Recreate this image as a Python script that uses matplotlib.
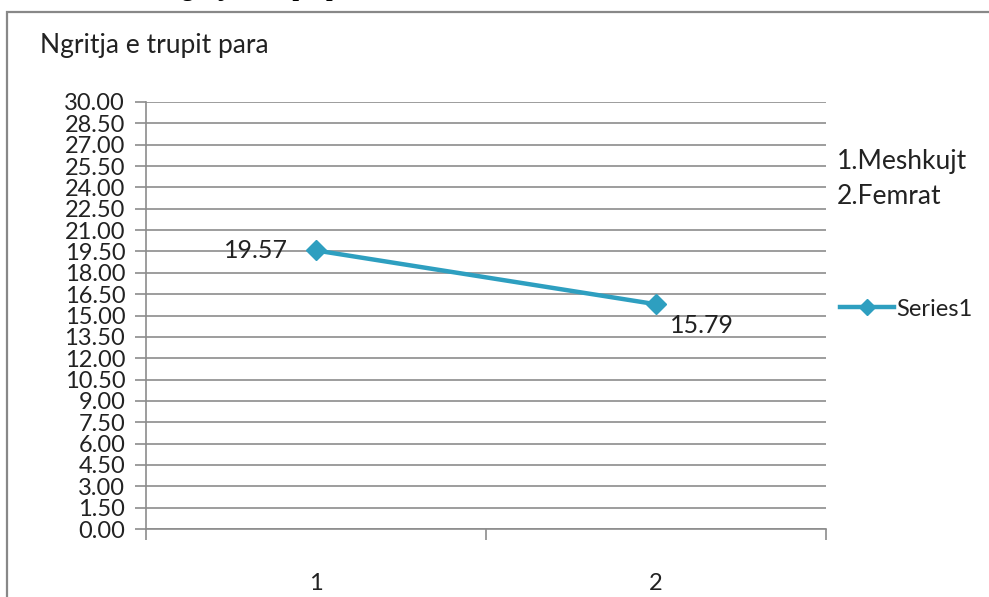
import matplotlib.pyplot as plt
from matplotlib.patches import Rectangle
import numpy as np

categories = ["1", "2"]
values = [19.57, 15.79]
y_ticks = np.arange(0, 30.01, 1.5)
notes = ["1.Meshkujt", "2.Femrat"]
series_name = "Series1"
chart_title = "Ngritja e trupit para"

LINE_COLOR = "#2E9FC0"
GRID = "#8C8C8C"
TEXT = "#222222"
plt.rcParams['font.family'] = ['Lato', 'DejaVu Sans']

fig = plt.figure(figsize=(9.89, 5.97), dpi=100)
ax = fig.add_axes([146 / 989, 1 - 529 / 597, 680 / 989, 427 / 597])

# heading above the chart box, mostly cut off by the page edge
fig.text(165 / 989, 1 + 4 / 597, chart_title, family="Liberation Serif",
         weight="bold", fontsize=17, va="baseline", ha="left")

# outer chart frame
fig.patches.append(Rectangle((7 / 989, -0.1), 1.2, 1 - 12 / 597 + 0.1, transform=fig.transFigure,
                             fill=False, edgecolor="#888888", linewidth=1.6))

x = np.arange(1, len(values) + 1)
ax.plot(x, values, color=LINE_COLOR, linewidth=3.2, marker="D", markersize=10, zorder=3,
        label=series_name)

ax.set_xlim(0.5, len(values) + 0.5)
ax.set_ylim(0, 30)
ax.set_yticks(y_ticks)
ax.set_yticklabels([f"{v:.2f}" for v in y_ticks], fontsize=17, color=TEXT)
ax.yaxis.grid(True, color=GRID, linewidth=1.2)
ax.set_axisbelow(True)

# category ticks sit between the categories, labels in the middle
ax.set_xticks(np.arange(0.5, len(values) + 1, 1.0))
ax.set_xticklabels([])
ax.set_xticks(x, minor=True)
ax.set_xticklabels(categories, minor=True, fontsize=17, color=TEXT)
ax.tick_params(axis="x", which="major", length=8, color=GRID, width=1.2)
ax.tick_params(axis="x", which="minor", length=0, pad=32)
ax.tick_params(axis="y", length=8, color=GRID, width=1.2, pad=7)

for side in ["top", "right"]:
    ax.spines[side].set_visible(False)
for side in ["left", "bottom"]:
    ax.spines[side].set_color(GRID)
    ax.spines[side].set_linewidth(1.2)

ax.annotate(f"{values[0]:.2f}", (x[0], values[0]), xytext=(-20, 0), textcoords="offset points",
            ha="right", va="center", fontsize=18, color=TEXT)
ax.annotate(f"{values[1]:.2f}", (x[1], values[1]), xytext=(10, -15), textcoords="offset points",
            ha="left", va="center", fontsize=18, color=TEXT)

fig.text(40 / 989, 1 - 45 / 597, chart_title, fontsize=19, color=TEXT, va="center")

for i, note in enumerate(notes):
    fig.text(837 / 989, 1 - (161 + 35 * i) / 597, note, fontsize=19, color=TEXT, va="center")

leg = fig.legend(loc="center left", bbox_to_anchor=(840 / 989, 1 - 309 / 597), frameon=False,
                 fontsize=17, handlelength=2.3, handletextpad=0.1, markerscale=0.8,
                 borderpad=0, borderaxespad=0)
for t in leg.get_texts():
    t.set_color(TEXT)

fig.savefig("out.png", dpi=100)
